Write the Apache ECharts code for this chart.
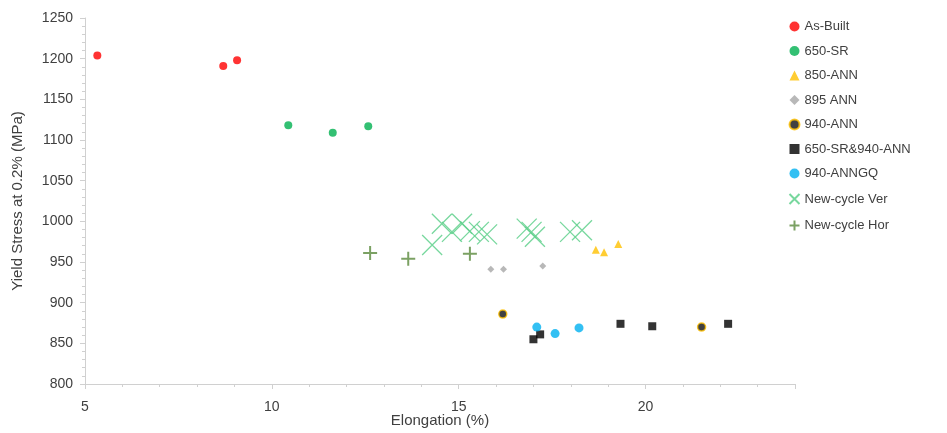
<!DOCTYPE html>
<html lang="en">
<head>
  <meta charset="UTF-8">
  <title>Yield stress vs elongation</title>
  <script src="https://cdn.jsdelivr.net/npm/echarts@6/dist/echarts.min.js"></script>
</head>
<body style="margin:0;background:#fff;">
  <div id="main" style="width:947px;height:433px;"></div>
  <script type="text/javascript">
    // [elongation %, yield stress MPa]
    var asBuilt = [[5.33, 1204], [8.7, 1191], [9.07, 1198]];
    var sr650 = [[10.44, 1118], [11.63, 1109], [12.58, 1117]];
    var ann850 = [[18.67, 965], [18.89, 962], [19.27, 972]];
    var ann895 = [[15.86, 941], [16.2, 941], [17.25, 945]];
    var ann940 = [[16.18, 886], [21.5, 870]];
    var sr650ann940 = [[17.0, 855], [17.18, 861], [19.33, 874], [20.18, 871], [22.21, 874]];
    var annGQ940 = [[17.09, 870], [17.58, 862], [18.22, 869]];
    var newVer = [[14.29, 971], [14.55, 997], [14.82, 987], [15.09, 997], [15.3, 988], [15.54, 987], [15.76, 984],
                  [16.82, 991], [17.04, 981], [16.95, 987], [17.98, 987], [18.3, 989]];
    var newHor = [[12.63, 961], [13.65, 954], [15.3, 960]];

    var xCross = 'path://M0,0L10,10M10,0L0,10';
    var plus = 'path://M5,0L5,10M0,5L10,5';

    var myChart = echarts.init(document.getElementById('main'));
    var option = {
      animation: false,
      textStyle: { fontFamily: 'Liberation Sans, Arial, sans-serif' },
      grid: { left: 85, right: 152, top: 18, bottom: 49, outerBoundsMode: 'none', containLabel: false },
      legend: {
        orient: 'vertical',
        left: 782,
        top: 15,
        itemWidth: 10,
        itemHeight: 10,
        itemGap: 11.5,
        textStyle: { color: '#404040', fontSize: 13 },
        data: ['As-Built', '650-SR', '850-ANN', '895 ANN', '940-ANN', '650-SR&940-ANN', '940-ANNGQ', 'New-cycle Ver', 'New-cycle Hor']
      },
      xAxis: {
        type: 'value',
        min: 5,
        max: 24,
        interval: 5,
        name: 'Elongation (%)',
        nameLocation: 'middle',
        nameGap: 29,
        nameMoveOverlap: false,
        nameTextStyle: { color: '#404040', fontSize: 15 },
        axisLine: { lineStyle: { color: '#d0d0d0' } },
        axisTick: { show: true, length: 5, lineStyle: { color: '#d0d0d0' } },
        minorTick: { show: true, splitNumber: 5, length: 3, lineStyle: { color: '#d0d0d0' } },
        axisLabel: { color: '#404040', fontSize: 14, margin: 16, showMaxLabel: false },
        splitLine: { show: false }
      },
      yAxis: {
        type: 'value',
        min: 800,
        max: 1250,
        interval: 50,
        name: 'Yield Stress at 0.2% (MPa)',
        nameLocation: 'middle',
        nameGap: 60,
        nameMoveOverlap: false,
        nameTextStyle: { color: '#404040', fontSize: 15 },
        axisLine: { show: true, lineStyle: { color: '#d0d0d0' } },
        axisTick: { show: true, length: 5, lineStyle: { color: '#d0d0d0' } },
        minorTick: { show: true, splitNumber: 5, length: 3, lineStyle: { color: '#d0d0d0' } },
        axisLabel: { color: '#404040', fontSize: 14, margin: 12, formatter: function (v) { return String(v); } },
        splitLine: { show: false }
      },
      series: [
        { name: 'As-Built', type: 'scatter', data: asBuilt, symbol: 'circle', symbolSize: 8, itemStyle: { color: '#ff0000' } },
        { name: '650-SR', type: 'scatter', data: sr650, symbol: 'circle', symbolSize: 8, itemStyle: { color: '#00b050' } },
        { name: '850-ANN', type: 'scatter', data: ann850, symbol: 'triangle', symbolSize: 8, itemStyle: { color: '#ffc000' } },
        { name: '895 ANN', type: 'scatter', data: ann895, symbol: 'diamond', symbolSize: 7, itemStyle: { color: '#a6a6a6' } },
        { name: '940-ANN', type: 'scatter', data: ann940, symbol: 'circle', symbolSize: 8, itemStyle: { color: '#111', borderColor: '#ffc000', borderWidth: 1.5 } },
        { name: '650-SR&940-ANN', type: 'scatter', data: sr650ann940, symbol: 'rect', symbolSize: 8, itemStyle: { color: '#000' } },
        { name: '940-ANNGQ', type: 'scatter', data: annGQ940, symbol: 'circle', symbolSize: 9, itemStyle: { color: '#00b0f0' } },
        { name: 'New-cycle Ver', type: 'scatter', data: newVer, symbol: xCross, symbolSize: 20, itemStyle: { color: 'none', borderColor: '#5fd08c', borderWidth: 1.3, opacity: 0.85 } },
        { name: 'New-cycle Hor', type: 'scatter', data: newHor, symbol: plus, symbolSize: 14, itemStyle: { color: 'none', borderColor: '#5a8a3c', borderWidth: 2 } }
      ]
    };
    myChart.setOption(option);
  </script>
</body>
</html>
